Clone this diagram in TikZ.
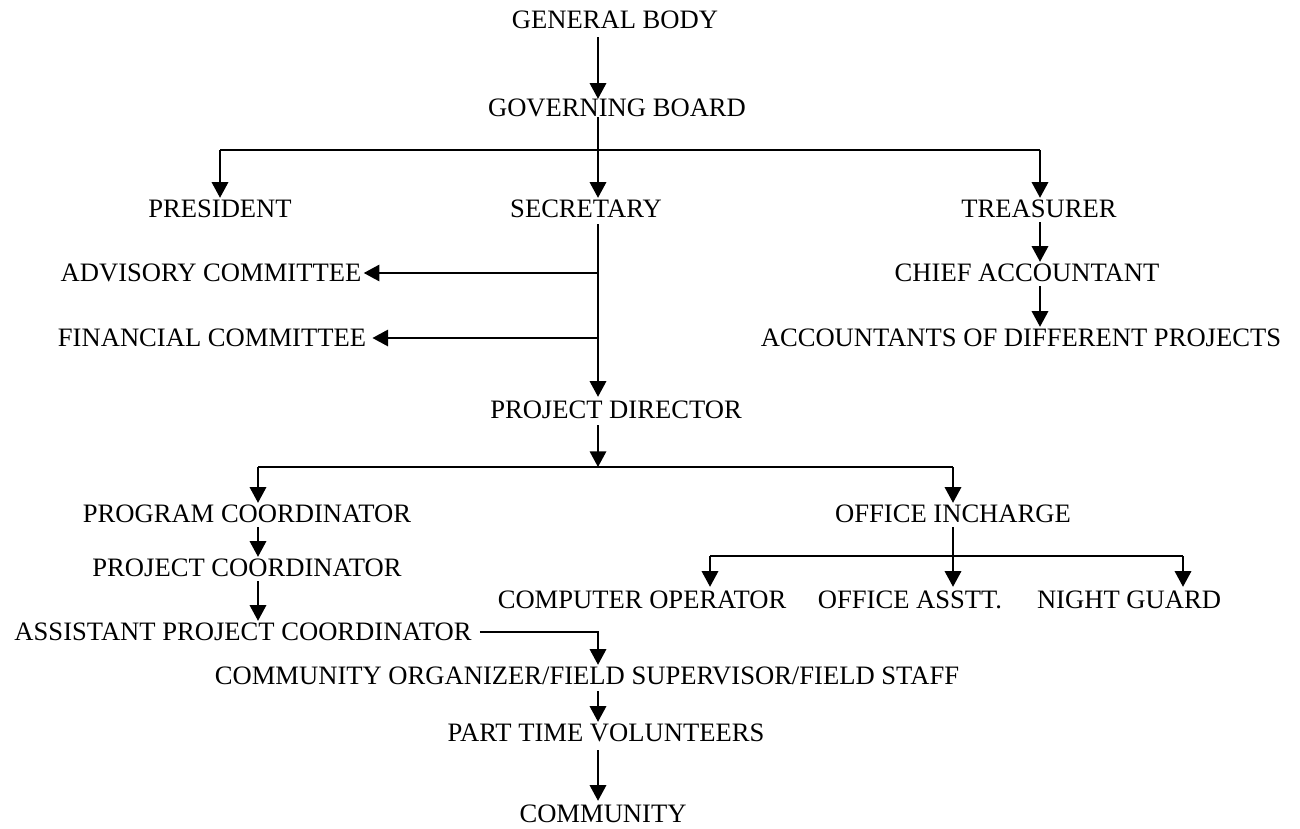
\documentclass[tikz,border=0pt]{standalone}
\usepackage{fontspec}
\setmainfont{Liberation Serif}
\usetikzlibrary{arrows.meta,positioning}

\begin{document}
\begin{tikzpicture}[x=0.5pt,y=-0.5pt,
	every node/.style={inner sep=0pt,text height=8.8pt,text depth=0pt,font=\fontsize{13.3}{16}\selectfont},
	link/.style={line width=0.9pt,-{Triangle[length=7.8pt,width=8.2pt]}},
	bar/.style={line width=0.9pt}]
	\useasboundingbox (0,0) rectangle (1300,829);
	
	% TOP
	\coordinate (spine) at (598,0);
	
	\node at (615,20) (gbody) {GENERAL BODY};
	\node at (617,108) (gboard) {GOVERNING BOARD};
	
	\node at (220,209) (pres) {PRESIDENT};
	\node at (586,209) (sec) {SECRETARY};
	\node at (1039,209) (treas) {TREASURER};
	
	\node at (211,273) (adv) {ADVISORY COMMITTEE};
	\node at (212,338) (fin) {FINANCIAL COMMITTEE};
	
	\node at (1027,273) (chief) {CHIEF ACCOUNTANT};
	\node at (1021,338) (accts) {ACCOUNTANTS OF DIFFERENT PROJECTS};
	
	\node at (616,410) (pdir) {PROJECT DIRECTOR};
	
	% Board bus
	\coordinate (busL) at (220,150);
	\coordinate (busR) at (1040,150);
	
	\draw [link] ([yshift=-4pt]gbody.south -| spine) -- (gboard.north -| spine);
	\draw [bar] (busL) -- (busR);
	\draw [link] (gboard.south -| spine) -- ([yshift=1pt]sec.north -| spine);
	\draw [link] (busL) -- ([yshift=1pt]pres.north -| busL);
	\draw [link] (busR) -- ([yshift=1pt]treas.north -| busR);
	
	% Treasurer side
	\draw [link] ([yshift=-2pt]treas.south -| busR) -- ([yshift=1pt]chief.north -| busR);
	\draw [link] ([yshift=-2pt]chief.south -| busR) -- ([yshift=1pt]accts.north -| busR);
	
	% Secretary side
	\draw [link] ([yshift=-3pt]sec.south -| spine) -- ([yshift=2pt]pdir.north -| spine);
	\draw [link] (adv.east -| spine) -- ([xshift=1pt]adv.east);
	\draw [link] (fin.east -| spine) -- ([xshift=3pt]fin.east);
	
	% BOTTOM
	\node at (247,514) (prog) {PROGRAM COORDINATOR};
	\node at (247,568) (projc) {PROJECT COORDINATOR};
	\node at (243,632) (asst) {ASSISTANT PROJECT COORDINATOR};
	\node at (587,676) (comorg) {COMMUNITY ORGANIZER/FIELD SUPERVISOR/FIELD STAFF};
	\node at (606,733) (vol) {PART TIME VOLUNTEERS};
	\node at (603,814) (comm) {COMMUNITY};
	
	\node at (953,514) (office) {OFFICE INCHARGE};
	\node at (642,600) (comp) {COMPUTER OPERATOR};
	\node at (910,600) (asstt) {OFFICE ASSTT.};
	\node at (1129,600) (guard) {NIGHT GUARD};
	
	% Director bus
	\coordinate (dbusL) at (258,467);
	\coordinate (dbusR) at (953,467);
	
	\draw [link] ([yshift=-3pt]pdir.south -| spine) -- (spine |- dbusL);
	\draw [bar] (dbusL) -- (dbusR);
	\draw [link] (dbusL) -- ([yshift=1pt]prog.north -| dbusL);
	\draw [link] (dbusR) -- ([yshift=1pt]office.north -| dbusR);
	
	% Program line
	\draw [link] ([yshift=-2pt]prog.south -| dbusL) -- ([yshift=1pt]projc.north -| dbusL);
	\draw [link] ([yshift=-2pt]projc.south -| dbusL) -- ([yshift=1pt]asst.north -| dbusL);
	\draw [link] ([xshift=4pt]asst.east) -| ([yshift=1pt]comorg.north -| spine);
	\draw [link] ([yshift=-3pt]comorg.south -| spine) -- ([yshift=1pt]vol.north -| spine);
	\draw [link] ([yshift=-4pt]vol.south -| spine) -- ([yshift=2pt]comm.north -| spine);
	
	% Office bus
	\coordinate (obusL) at (710,556);
	\coordinate (obusR) at (1183,556);
	
	\draw [bar] (obusL) -- (obusR);
	\draw [link] ([yshift=-2pt]office.south -| dbusR) -- ([yshift=2pt]asstt.north -| dbusR);
	\draw [link] (obusL) -- ([yshift=2pt]comp.north -| obusL);
	\draw [link] (obusR) -- ([yshift=2pt]guard.north -| obusR);
	
\end{tikzpicture}
\end{document}
